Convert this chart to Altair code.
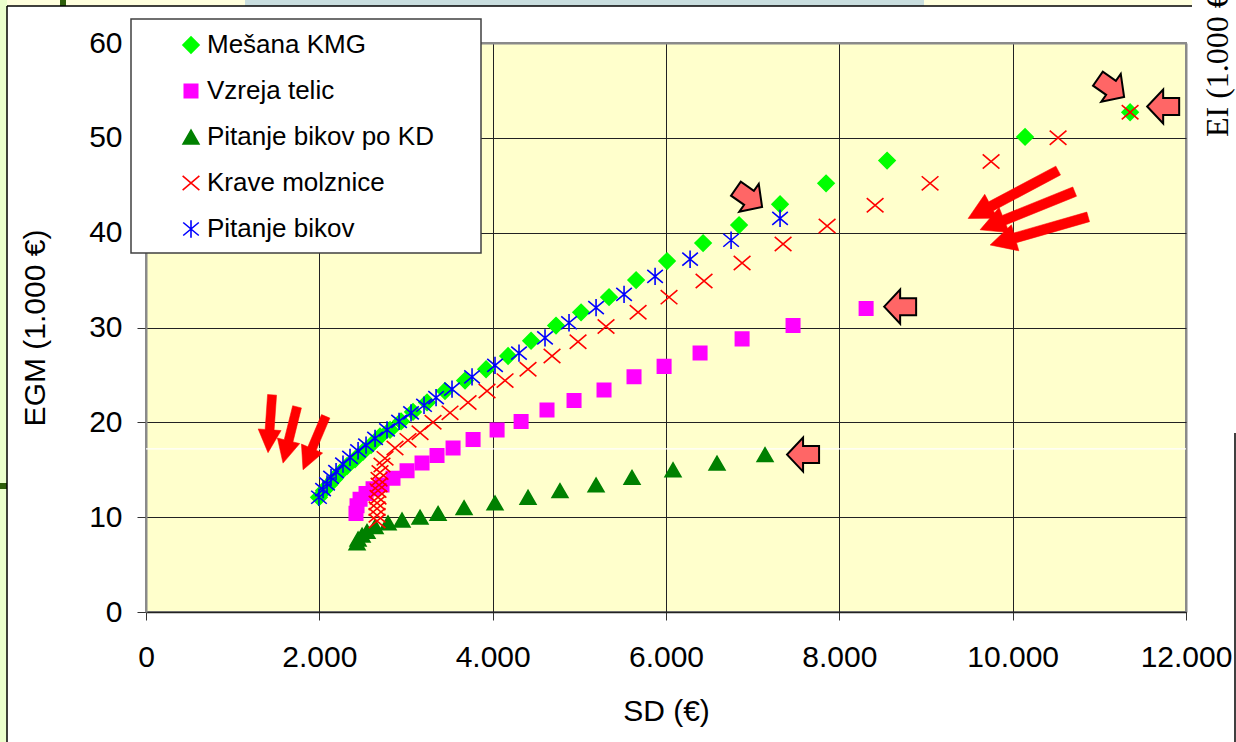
import altair as alt
import pandas as pd

SERIES = ["Mešana KMG", "Vzreja telic", "Pitanje bikov po KD", "Krave molznice", "Pitanje bikov"]

kmg_sd = [1996, 2054, 2112, 2170, 2239, 2320, 2412, 2504, 2597, 2700, 2816, 2943, 3081, 3243, 3450,
          3681, 3924, 4178, 4443, 4731, 5020, 5343, 5655, 6012, 6428, 6843, 7316, 7847, 8551, 10143, 11355]
kmg_egm = [12.1, 12.8, 13.4, 14.0, 14.7, 15.4, 16.1, 16.9, 17.6, 18.5, 19.2, 20.1, 21.1, 22.1, 23.3,
           24.4, 25.6, 27.0, 28.6, 30.2, 31.6, 33.2, 35.0, 37.0, 38.9, 40.8, 43.0, 45.2, 47.6, 50.1, 52.7]

telic_sd = [2423, 2435, 2470, 2539, 2620, 2723, 2850, 3012, 3185, 3358, 3543, 3774, 4051, 4328, 4627,
            4939, 5285, 5631, 5978, 6393, 6878, 7466, 8309]
telic_egm = [10.4, 11.2, 11.9, 12.5, 13.0, 13.4, 14.1, 14.9, 15.7, 16.5, 17.3, 18.2, 19.2, 20.1, 21.3,
             22.3, 23.4, 24.8, 25.9, 27.3, 28.8, 30.2, 32.0]

kd_sd = [2435, 2447, 2493, 2550, 2643, 2793, 2954, 3162, 3370, 3670, 4027, 4408, 4777, 5193, 5608,
         6081, 6589, 7143]
kd_egm = [7.3, 7.7, 8.1, 8.5, 9.0, 9.4, 9.7, 10.0, 10.4, 11.0, 11.5, 12.1, 12.8, 13.4, 14.2,
          15.0, 15.7, 16.6]

krave_sd = [2666, 2666, 2666, 2666, 2677, 2677, 2689, 2689, 2700, 2723, 2758, 2873, 3023, 3162, 3312,
            3508, 3716, 3935, 4143, 4408, 4685, 4985, 5308, 5678, 6035, 6439, 6878, 7351, 7859, 8413,
            9047, 9751, 10524, 11355]
krave_egm = [9.6, 10.2, 10.9, 11.5, 12.1, 12.8, 13.4, 14.0, 14.7, 15.5, 16.2, 17.3, 18.1, 18.9, 20.0,
             21.0, 22.1, 23.3, 24.4, 25.6, 27.0, 28.5, 30.1, 31.6, 33.2, 34.9, 36.8, 38.8, 40.7, 42.9,
             45.2, 47.5, 50.0, 52.7]

bikov_sd = [1996, 2043, 2089, 2135, 2193, 2273, 2354, 2447, 2539, 2643, 2781, 2920, 3058, 3208, 3347,
            3531, 3762, 4027, 4304, 4604, 4881, 5193, 5516, 5874, 6278, 6751, 7316]
bikov_egm = [12.1, 12.9, 13.5, 14.2, 14.8, 15.6, 16.3, 17.0, 17.6, 18.3, 19.2, 20.1, 21.0, 21.8, 22.6,
             23.5, 24.8, 26.0, 27.3, 28.9, 30.5, 32.1, 33.5, 35.4, 37.2, 39.2, 41.5]

# annotation arrows (tip position in data units, rotation in degrees)
thin_left_sd = [1408, 1581, 1812]
thin_left_egm = [16.8, 15.7, 15.0]
thin_left_ang = [94, 104, 113]

thin_right_sd = [9486, 9624, 9740]
thin_right_egm = [41.5, 40.3, 38.7]
thin_right_ang = [152, 158, 164]

block_sd = [8517, 7397, 7109, 11286, 11552]
block_egm = [32.2, 16.6, 42.7, 54.3, 53.3]
block_ang = [180, 180, 35, 35, 180]

white_line_egm = [17.2]

x_ticks = [0, 2000, 4000, 6000, 8000, 10000, 12000]
y_ticks = [0, 10, 20, 30, 40, 50, 60]

rows = []
for name, sds, egms in zip(SERIES, [kmg_sd, telic_sd, kd_sd, krave_sd, bikov_sd],
                           [kmg_egm, telic_egm, kd_egm, krave_egm, bikov_egm]):
    for s, e in zip(sds, egms):
        rows.append({"series": name, "sd": s, "egm": e})
df = pd.DataFrame(rows)

SHAPES = ["diamond", "square", "triangle-up",
          "M-1,-0.85L1,0.85M-1,0.85L1,-0.85",
          "M0,-1L0,1M-0.9,-0.75L0.9,0.75M-0.9,0.75L0.9,-0.75"]
STROKES = ["#00FF00", "#FF00FF", "#008000", "#FF0000", "#0000FF"]
FILLS = ["#00FF00", "#FF00FF", "#008000", "transparent", "transparent"]
SIZES = [260, 180, 250, 280, 300]

FONT = "Liberation Sans"
xs = alt.Scale(domain=[0, 12000], nice=False, zero=False)
ys = alt.Scale(domain=[0, 60], nice=False, zero=False)

leg = alt.Legend(
    title=None, orient="none", legendX=-15, legendY=-24,
    fillColor="transparent", strokeColor="transparent", padding=13,
    symbolOffset=34, labelOffset=3, rowPadding=20,
    labelFont=FONT, labelFontSize=26, labelColor="black", labelLimit=600,
    symbolStrokeWidth=1.6,
)

x_axis = alt.Axis(
    values=x_ticks, labelExpr="replace(format(datum.value, ','), ',', '.')",
    title="SD (€)", grid=True,
    gridColor={"condition": {"test": "datum.value === 12000", "value": "#8a8a8a"}, "value": "#222222"},
    gridWidth={"condition": {"test": "datum.value === 12000", "value": 2}, "value": 1},
    tickSize=8, tickColor="#333333", domainColor="#222222", domainWidth=1.5,
    labelFont=FONT, labelFontSize=30, labelColor="black", labelPadding=22,
    labelFlush=False, labelOverlap=False,
    titleFont=FONT, titleFontSize=30, titleFontWeight="normal", titleColor="black", titlePadding=24,
)
y_axis = alt.Axis(
    values=y_ticks, title="EGM (1.000 €)", grid=True,
    gridColor={"condition": {"test": "datum.value === 60", "value": "#8a8a8a"}, "value": "#222222"},
    gridWidth={"condition": {"test": "datum.value === 60", "value": 2}, "value": 1},
    tickSize=9, tickColor="#333333", domainColor="#8a8a8a", domainWidth=2,
    labelFont=FONT, labelFontSize=30, labelColor="black", labelPadding=15,
    labelFlush=False, labelOverlap=False,
    titleFont=FONT, titleFontSize=30, titleFontWeight="normal", titleColor="black", titlePadding=38,
)

points = alt.Chart(df).mark_point(strokeWidth=1.6, opacity=1).encode(
    x=alt.X("sd:Q", scale=xs, axis=x_axis),
    y=alt.Y("egm:Q", scale=ys, axis=y_axis),
    shape=alt.Shape("series:N", scale=alt.Scale(domain=SERIES, range=SHAPES), legend=leg),
    stroke=alt.Stroke("series:N", scale=alt.Scale(domain=SERIES, range=STROKES), legend=leg),
    fill=alt.Fill("series:N", scale=alt.Scale(domain=SERIES, range=FILLS), legend=leg),
    size=alt.Size("series:N", scale=alt.Scale(type="ordinal", domain=SERIES, range=SIZES), legend=leg),
    order=alt.Order("idx:Q"),
).transform_window(idx="row_number()")

white_line = alt.Chart(pd.DataFrame({"egm": white_line_egm})).mark_rule(
    color="white", strokeWidth=1.3).encode(y=alt.Y("egm:Q", scale=ys))

THIN_SHORT = "M0,0L-2.3,-1.15L-2.3,-0.45L-5.8,-0.45L-5.8,0.45L-2.3,0.45L-2.3,1.15Z"
THIN_LONG = "M0,0L-2.6,-1.35L-2.6,-0.5L-10.2,-0.5L-10.2,0.5L-2.6,0.5L-2.6,1.35Z"
BLOCK = "M0,0L-1.6,-1.7L-1.6,-0.85L-3.2,-0.85L-3.2,0.85L-1.6,0.85L-1.6,1.7Z"


def arrows(sds, egms, angs, shape, **kw):
    d = pd.DataFrame({"sd": sds, "egm": egms, "ang": angs})
    return alt.Chart(d).mark_point(shape=shape, size=400, opacity=1, **kw).encode(
        x=alt.X("sd:Q", scale=xs), y=alt.Y("egm:Q", scale=ys),
        angle=alt.Angle("ang:Q", scale=None))


red_left = arrows(thin_left_sd, thin_left_egm, thin_left_ang, THIN_SHORT,
                  filled=True, fill="#FF0000", stroke="#FF0000", strokeWidth=0.5)
red_right = arrows(thin_right_sd, thin_right_egm, thin_right_ang, THIN_LONG,
                   filled=True, fill="#FF0000", stroke="#FF0000", strokeWidth=0.5)
blocks = arrows(block_sd, block_egm, block_ang, BLOCK,
                filled=True, fill="#FF6666", stroke="black", strokeWidth=2)

# slide decorations around the chart (pixel positions relative to the plot origin)
one = pd.DataFrame({"k": [0]})


def deco_rect(x1, x2, y1, y2, color, stroke=None):
    kw = {"fill": color}
    if stroke:
        kw.update(stroke=stroke, strokeWidth=1.5)
    return alt.Chart(one).mark_rect(**kw).encode(
        x=alt.value(x1), x2=alt.value(x2), y=alt.value(y1), y2=alt.value(y2))


def deco_rule(x1, x2, y1, y2, color="black", w=1.5):
    return alt.Chart(one).mark_rule(color=color, strokeWidth=w).encode(
        x=alt.value(x1), x2=alt.value(x2), y=alt.value(y1), y2=alt.value(y2))


decos = [
    deco_rect(-146, -139, -43, 699, "#EBFFCC"),
    deco_rect(-146, -139, 440, 446, "#2E5E0A"),
    deco_rect(-139, 1046, -43, -37, "#FFFFDD"),
    deco_rect(99, 778, -43, -37, "#C9DEDF"),
    deco_rect(-86, -80, -43, -37, "#2E5E0A"),
    deco_rule(-139, -139, -37, 699),
    deco_rule(-139, 1046, -37, -37),
    deco_rule(1089, 1089, 390, 699),
]

# legend frame
legend_box = deco_rect(-15, 335, -24, 210, "white", stroke="#404040")

ei_text = alt.Chart(pd.DataFrame({"t": ["EI (1.000 €)"]})).mark_text(
    font="Liberation Serif", fontSize=32, angle=270, align="left", baseline="alphabetic",
    color="black").encode(text="t:N", x=alt.value(1082), y=alt.value(94))

chart = alt.layer(*decos, ei_text, white_line, legend_box, points, red_left, red_right, blocks).properties(
    width=1040, height=569,
    autosize=alt.AutoSizeParams(type="none"),
    padding={"left": 146, "top": 43, "right": 50, "bottom": 130},
    background="white",
).configure_view(fill="#FFFFCC", stroke="#8a8a8a", strokeWidth=2)

chart.save("out.html", embed_options={"renderer": "svg", "actions": False})
